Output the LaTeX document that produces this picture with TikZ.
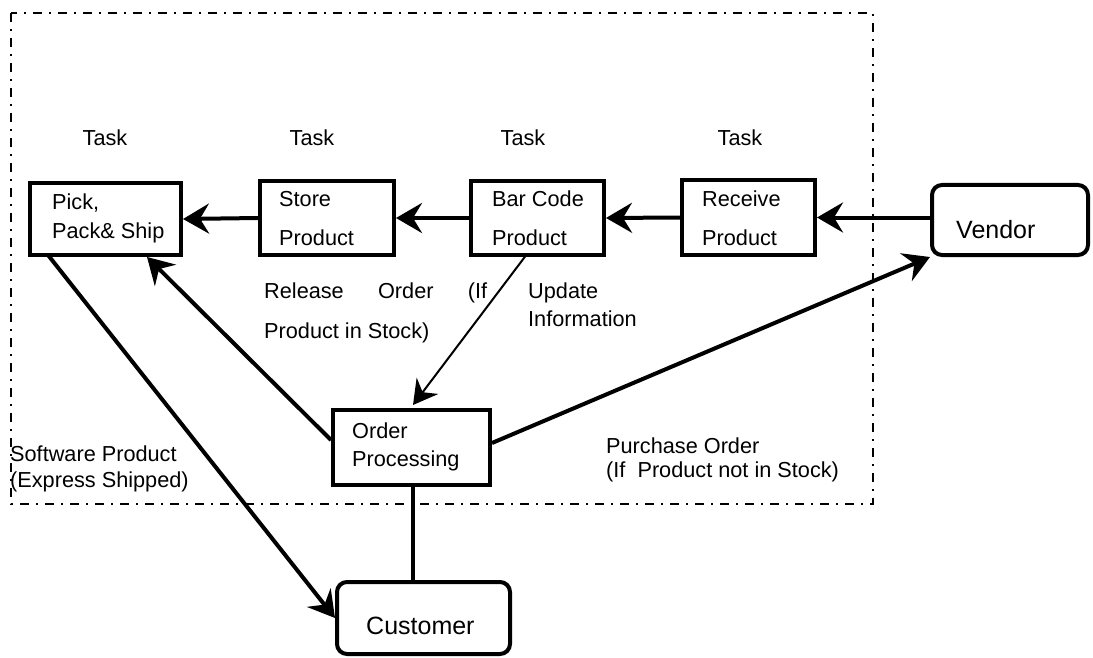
\documentclass[tikz,border=0pt]{standalone}
\usepackage{fontspec}
\setmainfont{Liberation Sans}
\usetikzlibrary{arrows.meta,calc}

\begin{document}
\begin{tikzpicture}[x=1pt,y=-1pt,
  box/.style={draw, line width=4pt, rectangle, inner sep=0pt},
  rbox/.style={box, rounded corners=10pt},
  lbl/.style={anchor=base west, inner sep=0pt, font=\fontsize{21.7}{24}\selectfont},
  biglbl/.style={lbl, font=\fontsize{25}{28}\selectfont},
  link/.style={line width=4pt, -{Stealth[length=26pt,width=30pt,inset=9pt]}},
  thinlink/.style={line width=2pt, -{Stealth[length=24pt,width=27pt,inset=8pt]}},
  plain/.style={line width=4pt},
  boundary/.style={line width=2pt, dash pattern=on 9pt off 7pt on 2pt off 7pt}]

\useasboundingbox (0,0) rectangle (1093,658);

% system boundary
\draw[boundary] (11,13) rectangle (873,504);

% task boxes
\node[box, minimum width=151pt, minimum height=72pt] (pick)    at (105.5,219)   {};
\node[box, minimum width=134pt, minimum height=74pt] (store)   at (327,218)     {};
\node[box, minimum width=133pt, minimum height=74pt] (bar)     at (537.5,218)   {};
\node[box, minimum width=133pt, minimum height=75pt] (receive) at (748.5,217.5) {};
\node[box, minimum width=157pt, minimum height=75pt] (order)   at (411.5,447.5) {};
% external parties
\node[rbox, minimum width=156pt, minimum height=70pt] (vendor)   at (1010,220)  {};
\node[rbox, minimum width=173pt, minimum height=72pt] (customer) at (423.5,618) {};

% task headings
\node[lbl, anchor=base] (task1) at (105,146) {Task};
\node[lbl, anchor=base] (task2) at (312,146) {Task};
\node[lbl, anchor=base] (task3) at (523,146) {Task};
\node[lbl, anchor=base] (task4) at (740,146) {Task};

% box texts
\node[lbl] (pickA) at (52,209) {Pick,};
\node[lbl] (pickB) at (52,238) {Pack\& Ship};
\node[lbl] (storeA) at (279,207) {Store};
\node[lbl] (storeB) at (279,245) {Product};
\node[lbl] (barA) at (492,207) {Bar Code};
\node[lbl] (barB) at (492,245) {Product};
\node[lbl] (recA) at (702,207) {Receive};
\node[lbl] (recB) at (702,245) {Product};
\node[lbl] (ordA) at (352,438) {Order};
\node[lbl] (ordB) at (352,466) {Processing};
\node[biglbl] (vendA) at (956,238) {Vendor};
\node[biglbl] (custA) at (366,634) {Customer};

% flow labels
\node[lbl] (relA) at (264,298) {\makebox[223pt][s]{Release Order (If}};
\node[lbl] (relB) at (264,338) {Product in Stock)};
\node[lbl] (updA) at (528,298) {Update};
\node[lbl] (updB) at (528,326) {Information};
\node[lbl] (swA) at (10,461) {Software Product};
\node[lbl] (swB) at (10,487) {(Express Shipped)};
\node[lbl] (poA) at (606,453) {Purchase Order};
\node[lbl] (poB) at (606,477) {(If~ Product not in Stock)};

% goods flow along the tasks
\draw[link] (store.west) -- (pick.east);
\draw[link] (bar.west) -- (store.east);
\draw[link] (receive.west) -- (bar.east);
\draw[link] (vendor.west |- receive.east) -- (receive.east);

% order handling
\draw[link] ([xshift=20pt,yshift=2pt]pick.south west) -- (customer.west);
\draw[link] ([yshift=7.5pt]order.west) -- ([xshift=119pt]pick.south west);
\draw[thinlink] ([xshift=58pt,yshift=3pt]bar.south west) -- ([xshift=1.5pt,yshift=3pt]order.north);
\draw[link] ([yshift=4.5pt]order.east) -- (vendor.south west);
\draw[plain] ([xshift=1.5pt]order.south) -- ([xshift=1.5pt]order.south |- customer.north);
\end{tikzpicture}
\end{document}
